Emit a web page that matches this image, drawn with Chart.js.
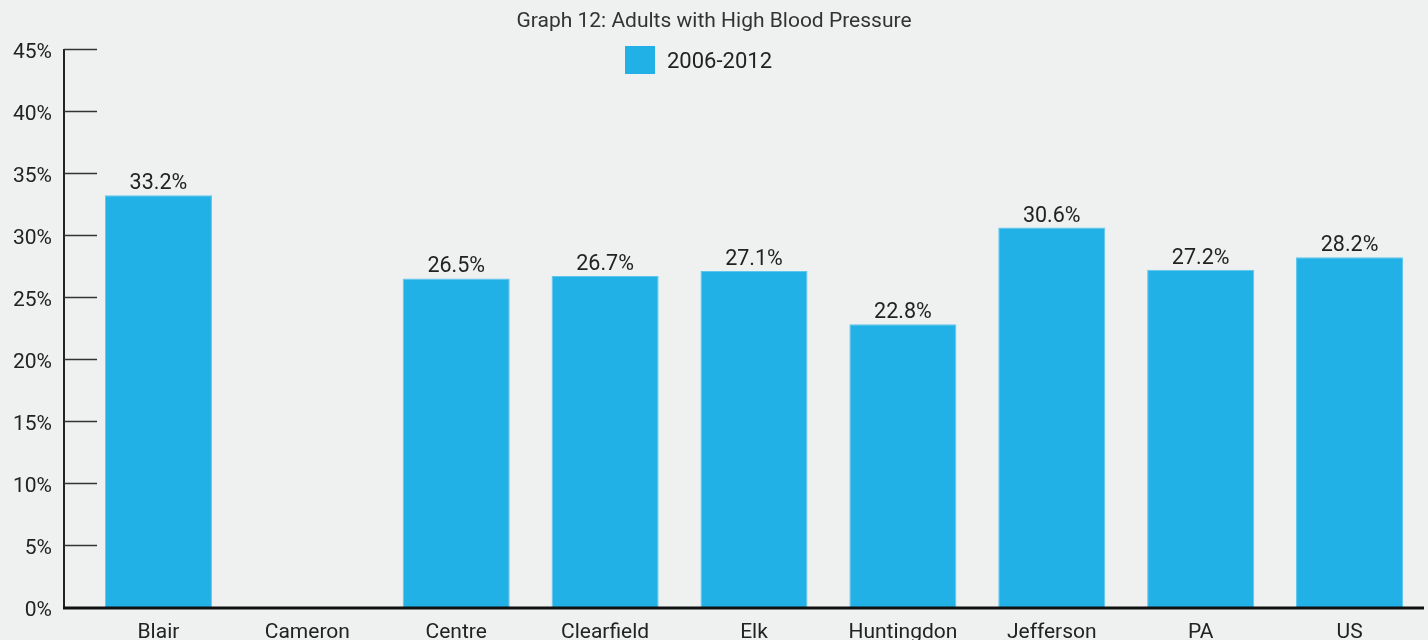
<!DOCTYPE html>
<html lang="en">
<head>
  <meta charset="UTF-8">
  <title>Adults with High Blood Pressure</title>
  <script src="https://cdn.jsdelivr.net/npm/chart.js"></script>
  <style>
    html, body { margin: 0; padding: 0; background: #eff1f0; overflow: hidden; }
    #wrap { width: 1428px; height: 640px; }
  </style>
</head>
<body>
  <div id="wrap"><canvas id="bpChart" width="1428" height="640"></canvas></div>

  <script>
    const titleText = 'Graph 12: Adults with High Blood Pressure';
    const seriesLabel = '2006-2012';
    const counties = ['Blair', 'Cameron', 'Centre', 'Clearfield', 'Elk', 'Huntingdon', 'Jefferson', 'PA', 'US'];
    const rates = [33.2, null, 26.5, 26.7, 27.1, 22.8, 30.6, 27.2, 28.2];
    const yTicks = [0, 5, 10, 15, 20, 25, 30, 35, 40, 45];

    const barColor = '#22b1e6';
    const fontFamily = 'Roboto, "Noto Sans", sans-serif';
    const axisX = 64; // the y axis line sits a little left of the first category

    // axis lines, short tick marks, y labels, value labels, title and legend
    const extras = {
      id: 'extras',
      afterDraw(chart) {
        const ctx = chart.ctx;
        const area = chart.chartArea;
        const y = chart.scales.y;
        ctx.save();

        // y axis
        ctx.strokeStyle = '#222';
        ctx.lineWidth = 2;
        ctx.beginPath();
        ctx.moveTo(axisX, area.top);
        ctx.lineTo(axisX, area.bottom);
        ctx.stroke();

        ctx.lineWidth = 1.5;
        ctx.strokeStyle = '#333';
        ctx.fillStyle = '#222';
        ctx.font = '21px ' + fontFamily;
        ctx.textAlign = 'right';
        ctx.textBaseline = 'middle';
        y.ticks.forEach(t => {
          const py = Math.round(y.getPixelForValue(t.value)) + 0.5;
          ctx.fillText(t.value + '%', axisX - 12, py + 3);
          if (t.value === 0) return;
          ctx.beginPath();
          ctx.moveTo(axisX, py);
          ctx.lineTo(axisX + 33, py);
          ctx.stroke();
        });

        // x axis
        ctx.strokeStyle = '#111';
        ctx.lineWidth = 3;
        ctx.beginPath();
        ctx.moveTo(axisX - 1, area.bottom + 1);
        ctx.lineTo(area.right, area.bottom + 1);
        ctx.stroke();

        // value labels
        const meta = chart.getDatasetMeta(0);
        ctx.fillStyle = '#222';
        ctx.font = '21.5px ' + fontFamily;
        ctx.textAlign = 'center';
        ctx.textBaseline = 'alphabetic';
        meta.data.forEach((bar, i) => {
          const v = rates[i];
          if (v === null) return;
          ctx.fillText(v.toFixed(1) + '%', bar.x, bar.y - 6);
        });

        // title
        ctx.fillStyle = '#333';
        ctx.font = '21px ' + fontFamily;
        ctx.textBaseline = 'middle';
        ctx.fillText(titleText, chart.width / 2, 22);

        // legend
        ctx.fillStyle = barColor;
        ctx.fillRect(625, 46, 30, 28);
        ctx.fillStyle = '#222';
        ctx.font = '22px ' + fontFamily;
        ctx.textAlign = 'left';
        ctx.fillText(chart.data.datasets[0].label, 667, 62);

        ctx.restore();
      }
    };

    const ctx = document.getElementById('bpChart').getContext('2d');
    new Chart(ctx, {
      type: 'bar',
      data: {
        labels: counties,
        datasets: [{
          label: seriesLabel,
          data: rates,
          backgroundColor: barColor,
          borderColor: '#5ec6ee',
          borderWidth: 1,
          categoryPercentage: 1,
          barPercentage: 0.719
        }]
      },
      options: {
        responsive: false,
        animation: false,
        layout: { padding: { top: 49, right: 4, left: 0, bottom: 0 } },
        plugins: {
          legend: { display: false },
          title: { display: false },
          tooltip: { enabled: false }
        },
        scales: {
          x: {
            grid: { display: false, drawTicks: false },
            border: { display: false },
            ticks: { color: '#222', font: { family: fontFamily, size: 21 }, padding: 13, maxRotation: 0, autoSkip: false },
            afterFit(scale) { scale.height = 33; }
          },
          y: {
            min: 0,
            max: 45,
            afterBuildTicks(scale) { scale.ticks = yTicks.map(v => ({ value: v })); },
            grid: { display: false, drawTicks: false },
            border: { display: false },
            ticks: { display: false },
            afterFit(scale) { scale.width = 84; }
          }
        }
      },
      plugins: [extras]
    });
  </script>
</body>
</html>
